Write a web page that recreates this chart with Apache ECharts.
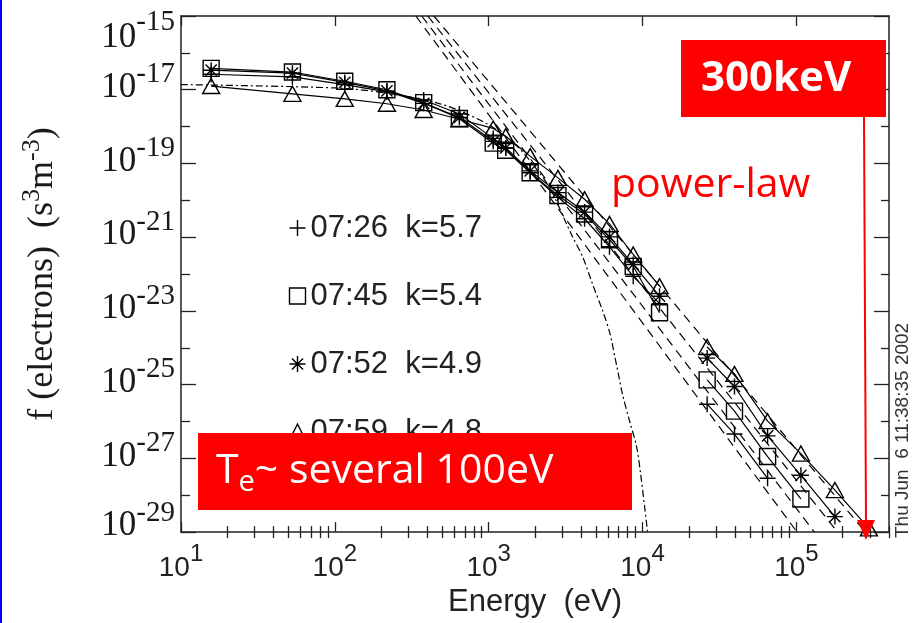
<!DOCTYPE html>
<html>
<head>
<meta charset="utf-8">
<title>f (electrons) vs Energy</title>
<script src="https://cdn.jsdelivr.net/npm/echarts@6/dist/echarts.min.js"></script>
<style>
  html, body { margin: 0; padding: 0; background: #fff; }
  #chart { width: 914px; height: 623px; }
</style>
</head>
<body>
<div id="chart"></div>
<script>
// energy channels (eV)
const lowEnergy = [15.7, 53, 116, 218, 378, 645, 1070, 1290, 1860, 2820, 4200, 6100, 8700, 12900]
const highEnergy = [26300, 39600, 65000, 107000, 178000, 296000]

// f (s^3 m^-3)
const plusLow = [2.63e-17, 2.24e-17, 1.38e-17, 8.71e-18, 5.25e-18, 2.19e-18, 4.79e-19, 2.63e-19, 5.62e-20, 1.20e-20, 3.16e-21, 5.50e-22, 8.71e-23, 1.58e-23]
const plusHigh = [2.95e-26, 4.57e-27, 2.88e-28]
const squareLow = [3.80e-17, 3.02e-17, 1.70e-17, 1.00e-17, 4.47e-18, 1.66e-18, 3.55e-19, 2.29e-19, 5.62e-20, 1.35e-20, 4.27e-21, 8.51e-22, 1.62e-22, 8.91e-24]
const squareHigh = [1.35e-25, 1.91e-26, 1.12e-27, 7.94e-29]
const starLow = [3.39e-17, 2.82e-17, 1.58e-17, 9.33e-18, 4.27e-18, 1.78e-18, 3.98e-19, 2.63e-19, 6.31e-20, 1.62e-20, 4.79e-21, 1.02e-21, 1.82e-22, 2.51e-23]
const starHigh = [5.25e-25, 8.91e-26, 4.07e-27, 3.47e-28, 2.63e-29]
const triangleLow = [1.26e-17, 7.76e-18, 5.62e-18, 4.17e-18, 2.82e-18, 1.58e-18, 8.91e-19, 5.50e-19, 1.58e-19, 4.07e-20, 1.07e-20, 2.29e-21, 3.39e-22, 4.68e-23]
const triangleHigh = [1.05e-24, 1.95e-25, 1.02e-26, 1.35e-27, 1.38e-28, 1.26e-29]

// power-law fits (dashed): energy where each line leaves the top / bottom of the frame
const fitTopEnergy = [336, 367, 402, 440]
const fitBottomEnergy = [101000, 131000, 185000, 281000]

// maxwellian (dash-dot)
const maxwellEnergy = [10, 100, 200, 500, 1000, 1500, 2000, 2500, 3210, 3510, 4070, 4730, 5500, 6110, 6780, 7420, 8240, 9150, 9710, 10300, 10770]
const maxwellF = [1.38e-17, 1.12e-17, 8.51e-18, 3.98e-18, 1.12e-18, 3.16e-19, 7.94e-20, 2.14e-20, 2.29e-21, 1.02e-21, 3.02e-22, 5.37e-23, 1.02e-23, 2.63e-24, 3.39e-25, 5.37e-26, 1.02e-26, 2.09e-27, 3.89e-28, 5.13e-29, 1.05e-29]

const seriesNames = ['07:26  k=5.7', '07:45  k=5.4', '07:52  k=4.9', '07:59  k=4.8']

// ticks
const xMajor = [10, 100, 1000, 10000, 100000]
const yMajor = [1e-29, 1e-27, 1e-25, 1e-23, 1e-21, 1e-19, 1e-17, 1e-15]
const yMinor = [1e-28, 1e-26, 1e-24, 1e-22, 1e-20, 1e-18, 1e-16]
const xMinor = []
xMajor.forEach(d => {
  for (let k = 2; k <= 9; k++) {
    if (k * d <= 4e5) xMinor.push(k * d)
  }
})

const plusPath = 'path://M5,0L5,10M0,5L10,5'
const starPath = 'path://M5,0L5,10M0,5L10,5M1.5,1.5L8.5,8.5M1.5,8.5L8.5,1.5'

const zip = (xs, ys) => ys.map((y, i) => [xs[i], y])

function markSeries(name, xs, ys, symbol, size) {
  return {
    type: 'line',
    name: name,
    data: zip(xs, ys),
    symbol: symbol,
    symbolSize: size,
    showAllSymbol: true,
    lineStyle: { color: '#000', width: 1.2 },
    itemStyle: { color: 'none', borderColor: '#000', borderWidth: 1.4 },
    emphasis: { disabled: true },
    z: 4
  }
}

function fitSeries(i) {
  return {
    type: 'line',
    data: [[fitTopEnergy[i], 1e-15], [fitBottomEnergy[i], 1e-29]],
    symbol: 'none',
    lineStyle: { color: '#000', width: 1.2, type: [9, 6] },
    silent: true,
    z: 3
  }
}

const symbols = [plusPath, 'rect', starPath, 'triangle']
const sizes = [16, 16, 16, [17, 15]]
const lows = [plusLow, squareLow, starLow, triangleLow]
const highs = [plusHigh, squareHigh, starHigh, triangleHigh]

const series = []
for (let i = 0; i < 4; i++) {
  series.push(markSeries(seriesNames[i], lowEnergy, lows[i], symbols[i], sizes[i]))
  series.push(markSeries(seriesNames[i], highEnergy, highs[i], symbols[i], sizes[i]))
  series.push(fitSeries(i))
}
series.push({
  type: 'line',
  data: zip(maxwellEnergy, maxwellF),
  symbol: 'none',
  smooth: 0.3,
  lineStyle: { color: '#000', width: 1.2, type: [7, 3, 2, 3] },
  silent: true,
  z: 3
})

const axisLine = { show: true, onZero: false, lineStyle: { color: '#222', width: 1.5 } }
const xLabelRich = {
  b: { fontFamily: 'Liberation Sans', fontSize: 28, color: '#222' },
  s: { fontFamily: 'Liberation Sans', fontSize: 24, color: '#222', padding: [0, 0, 28, 0] }
}
const serif = { fontFamily: 'Liberation Serif', color: '#1a1a1a' }
const yLabelRich = {
  b: Object.assign({ fontSize: 35, padding: [0, 0, 4, 0] }, serif),
  s: Object.assign({ fontSize: 29, padding: [0, 0, 30, 0] }, serif),
  // top label hangs inside the frame, bottom label sits above the frame
  bt: Object.assign({ fontSize: 35, padding: [44, 0, 0, 0] }, serif),
  st: Object.assign({ fontSize: 29, padding: [12, 0, 0, 0] }, serif),
  bb: Object.assign({ fontSize: 35, padding: [0, 0, 12, 0] }, serif),
  sb: Object.assign({ fontSize: 29, padding: [0, 0, 38, 0] }, serif)
}
const xLabel = v => '{b|10}{s|' + Math.round(Math.log10(v)) + '}'
const yLabel = v => {
  const e = Math.round(Math.log10(v))
  const k = e === -15 ? 't' : (e === -29 ? 'b' : '')
  return '{b' + k + '|10}{s' + k + '|' + e + '}'
}

function logX(position, ticks, len, withLabels) {
  return {
    type: 'log', position: position, min: 10, max: 4e5,
    axisLine: withLabels !== null ? axisLine : { show: false },
    axisTick: { show: true, inside: true, length: len, customValues: ticks, lineStyle: { color: '#222', width: 1.3 } },
    axisLabel: withLabels ? { show: true, customValues: xMajor, formatter: xLabel, rich: xLabelRich, margin: 10 } : { show: false },
    splitLine: { show: false }
  }
}
function logY(position, ticks, len, withLabels) {
  return {
    type: 'log', position: position, min: 1e-29, max: 1e-15,
    axisLine: withLabels !== null ? axisLine : { show: false },
    axisTick: { show: true, inside: true, length: len, customValues: ticks, lineStyle: { color: '#222', width: 1.3 } },
    axisLabel: withLabels ? { show: true, customValues: yMajor, formatter: yLabel, rich: yLabelRich, margin: 6 } : { show: false },
    splitLine: { show: false }
  }
}

const xAxes = [
  logX('bottom', xMajor, 10, true),
  logX('bottom', xMinor, 6, null),
  logX('top', xMajor, 10, false),
  logX('top', xMinor, 6, null)
]
Object.assign(xAxes[0], {
  name: 'Energy  (eV)', nameLocation: 'middle', nameGap: 51,
  nameTextStyle: { fontFamily: 'Liberation Sans', fontSize: 31, color: '#222' }
})
const yAxes = [
  logY('left', yMajor, 15, true),
  logY('left', yMinor, 9, null),
  logY('right', yMajor, 15, false),
  logY('right', yMinor, 8, null)
]
Object.assign(yAxes[0], {
  name: '{n|f (electrons)  (s}{s|3}{n|m}{s|-3}{n|)}', nameLocation: 'middle', nameGap: 114, nameRotate: 90,
  nameTextStyle: {
    rich: {
      n: { fontFamily: 'Liberation Serif', fontSize: 36, color: '#1a1a1a' },
      s: { fontFamily: 'Liberation Serif', fontSize: 26, color: '#1a1a1a', padding: [0, 0, 22, 0] }
    }
  }
})

const legendStyle = { color: 'none', borderColor: '#000', borderWidth: 1.4 }

const option = {
  animation: false,
  backgroundColor: '#fff',
  grid: { left: 181, right: 25, top: 16, bottom: 84, containLabel: false },
  xAxis: xAxes,
  yAxis: yAxes,
  legend: {
    orient: 'vertical', left: 282, top: 205, itemGap: 32, itemWidth: 16, itemHeight: 16,
    selectedMode: false,
    textStyle: { fontFamily: 'Liberation Sans', fontSize: 31, color: '#222', lineHeight: 36 },
    data: seriesNames.map((n, i) => ({ name: n, icon: symbols[i], itemStyle: legendStyle }))
  },
  series: series,
  graphic: [
    { type: 'rect', shape: { x: 0, y: 0, width: 2, height: 623 }, style: { fill: '#0000ff' }, z: 100 },
    { type: 'rect', shape: { x: 198, y: 433, width: 434, height: 77 }, style: { fill: '#ff0000' }, z: 100 },
    {
      type: 'text', x: 216, y: 471, z: 101,
      style: {
        text: '{a|T}{b|e}{a|~ several 100eV}', verticalAlign: 'middle',
        rich: {
          a: { fontFamily: 'Open Sans', fontSize: 41, fill: '#fff' },
          b: { fontFamily: 'Open Sans', fontSize: 29, fill: '#fff', padding: [24, 0, 0, 0] }
        }
      }
    },
    { type: 'rect', shape: { x: 681, y: 40, width: 205, height: 77 }, style: { fill: '#ff0000' }, z: 100 },
    {
      type: 'text', x: 701, y: 79, z: 101,
      style: { text: '300keV', fontFamily: 'Open Sans', fontWeight: 'bold', fontSize: 42, fill: '#fff', verticalAlign: 'middle' }
    },
    {
      type: 'text', x: 611, y: 185, z: 101,
      style: { text: 'power-law', fontFamily: 'Open Sans', fontSize: 41, fill: '#ff0000', verticalAlign: 'middle' }
    },
    { type: 'line', shape: { x1: 864, y1: 117, x2: 866, y2: 524 }, style: { stroke: '#ff0000', lineWidth: 2 }, z: 101 },
    { type: 'polygon', shape: { points: [[857, 520], [875, 520], [866, 540]] }, style: { fill: '#ff0000' }, z: 101 },
    {
      type: 'text', x: 903, y: 538, rotation: Math.PI / 2, z: 101,
      style: { text: 'Thu Jun  6 11:38:35 2002', fontFamily: 'Liberation Sans', fontSize: 19, fill: '#333', align: 'left', verticalAlign: 'middle' }
    }
  ]
}

const chart = echarts.init(document.getElementById('chart'))
chart.setOption(option)
window.addEventListener('resize', () => chart.resize())
</script>
</body>
</html>
